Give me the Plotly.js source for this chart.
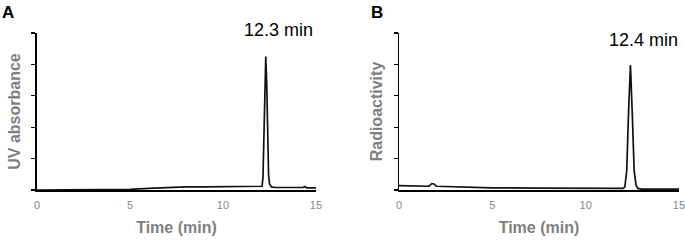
<!DOCTYPE html>
<html>
<head>
<meta charset="utf-8">
<script src="https://cdn.plot.ly/plotly-3.0.1.min.js"></script>
<style>html,body{margin:0;padding:0;background:#fff;}#chart{width:685px;height:240px;}</style>
</head>
<body>
<div id="chart"></div>
<script>
// Panel A: UV absorbance trace
const timeA = [0, 2, 4, 4.5, 5, 6, 7, 8, 9, 10, 11, 11.8, 12.0, 12.1, 12.15, 12.2, 12.25, 12.3, 12.35, 12.4, 12.45, 12.5, 12.6, 12.8, 13.5, 14.3, 14.4, 14.5, 15];
const uvA   = [0, 0, 0, 0.01, 0.02, 0.05, 0.08, 0.10, 0.10, 0.10, 0.10, 0.10, 0.10, 0.12, 0.4, 1.7, 3.6, 4.25, 3.4, 1.5, 0.5, 0.2, 0.1, 0.08, 0.08, 0.08, 0.11, 0.07, 0.07];
// Panel B: radioactivity trace
const timeB = [0, 0.5, 1, 1.6, 1.75, 1.85, 2.0, 3, 4, 5, 7.5, 10, 11.5, 12.0, 12.1, 12.2, 12.3, 12.4, 12.5, 12.6, 12.7, 12.8, 13, 15];
const radB  = [0.14, 0.13, 0.12, 0.12, 0.2, 0.2, 0.12, 0.10, 0.08, 0.07, 0.06, 0.05, 0.05, 0.05, 0.1, 0.6, 2.5, 3.98, 2.4, 0.6, 0.15, 0.05, 0.03, 0.03];
const xTicks = [0, 5, 10, 15];
const peakLabels = ["12.3 min", "12.4 min"];
const panelLabels = ["A", "B"];
const yTitles = ["UV absorbance", "Radioactivity"];

const gray = '#7f7f7f';
const tickGray = '#888888';
const FONT = 'Liberation Sans, Arial, sans-serif';
const lineStyle = {color: '#111', width: 1.7};

function xax(domain, anchor) {
  return {
    domain: domain, range: [0, 15], tickvals: xTicks, ticktext: xTicks.map(String), anchor: anchor,
    showgrid: false, zeroline: false, showline: true, linecolor: '#000', linewidth: 1.5,
    ticks: '', ticklabelstandoff: 4, ticklabeloverflow: 'allow',
    tickfont: {family: FONT, size: 11, color: tickGray},
    title: {text: 'Time (min)', font: {family: FONT, size: 16, color: gray, weight: 'bold'}, standoff: 12},
    fixedrange: true
  };
}
function yax(title, anchor) {
  return {
    domain: [0.2083, 0.8625], range: [0, 5], dtick: 1, tick0: 0, anchor: anchor,
    showgrid: false, zeroline: false, showline: true, linecolor: '#000', linewidth: 1.5,
    ticks: 'outside', ticklen: 4, tickwidth: 1.2, tickcolor: '#000', showticklabels: false,
    title: {text: title, font: {family: FONT, size: 16, color: gray, weight: 'bold'}, standoff: 7},
    fixedrange: true
  };
}

const data = [
  {x: timeA, y: uvA, type: 'scatter', mode: 'lines', line: lineStyle, xaxis: 'x', yaxis: 'y', hoverinfo: 'skip'},
  {x: timeB, y: radB, type: 'scatter', mode: 'lines', line: lineStyle, xaxis: 'x2', yaxis: 'y2', hoverinfo: 'skip'}
];

const layout = {
  width: 685, height: 240,
  margin: {l: 0, r: 0, t: 0, b: 0},
  paper_bgcolor: '#fff', plot_bgcolor: '#fff',
  showlegend: false,
  xaxis: xax([0.054, 0.4613], 'y'),
  yaxis: yax(yTitles[0], 'x'),
  xaxis2: xax([0.5825, 0.9912], 'y2'),
  yaxis2: yax(yTitles[1], 'x2'),
  annotations: [
    {text: panelLabels[0], xref: 'paper', yref: 'paper', x: 0, y: 1 - 12.5/240, xanchor: 'left', yanchor: 'middle', showarrow: false, font: {family: FONT, size: 17, color: '#000', weight: 'bold'}},
    {text: panelLabels[1], xref: 'paper', yref: 'paper', x: 369/685, y: 1 - 12.5/240, xanchor: 'left', yanchor: 'middle', showarrow: false, font: {family: FONT, size: 17, color: '#000', weight: 'bold'}},
    {text: peakLabels[0], xref: 'paper', yref: 'paper', x: 315/685, y: 1 - 30/240, xanchor: 'right', yanchor: 'middle', showarrow: false, font: {family: FONT, size: 18, color: '#000'}},
    {text: peakLabels[1], xref: 'paper', yref: 'paper', x: 680/685, y: 1 - 40.5/240, xanchor: 'right', yanchor: 'middle', showarrow: false, font: {family: FONT, size: 18, color: '#000'}}
  ]
};

Plotly.newPlot('chart', data, layout, {staticPlot: true, displayModeBar: false});
</script>
</body>
</html>
